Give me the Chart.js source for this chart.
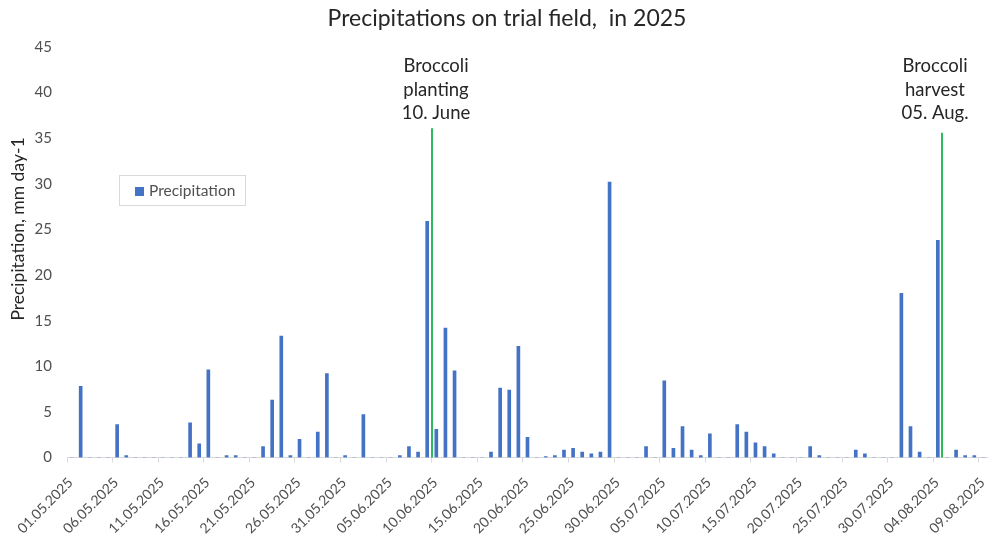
<!DOCTYPE html>
<html>
<head>
<meta charset="utf-8">
<script src="https://cdn.jsdelivr.net/npm/chart.js@4.4.1/dist/chart.umd.min.js"></script>
<style>
  html, body { margin: 0; padding: 0; background: #fff; }
  #wrap { width: 988px; height: 534px; position: relative; }
</style>
</head>
<body>
<div id="wrap"><canvas id="c" width="988" height="534"></canvas></div>
<script>
// ---- data ----
const startDate = [2025, 5, 1]; // 01.05.2025, daily categories
const dayCount = 101;            // 01.05.2025 .. 09.08.2025
const precipitation = [
  0, 7.8, 0, 0, 0, 3.6, 0.2, 0, 0, 0,          // 01.05 - 10.05
  0, 0, 0, 3.8, 1.5, 9.6, 0, 0.2, 0.2, 0,      // 11.05 - 20.05
  0, 1.2, 6.3, 13.3, 0.2, 2.0, 0, 2.8, 9.2, 0, // 21.05 - 30.05
  0.2, 0, 4.7, 0, 0, 0, 0.2, 1.2, 0.6, 25.9,   // 31.05 - 09.06
  3.1, 14.2, 9.5, 0, 0, 0, 0.6, 7.6, 7.4, 12.2,// 10.06 - 19.06
  2.2, 0, 0.1, 0.2, 0.8, 1.0, 0.6, 0.4, 0.6, 30.2, // 20.06 - 29.06
  0, 0, 0, 1.2, 0, 8.4, 1.0, 3.4, 0.8, 0.2,    // 30.06 - 09.07
  2.6, 0, 0, 3.6, 2.8, 1.6, 1.2, 0.4, 0, 0,    // 10.07 - 19.07
  0, 1.2, 0.2, 0, 0, 0, 0.8, 0.4, 0, 0,        // 20.07 - 29.07
  0, 18.0, 3.4, 0.6, 0, 23.8, 0, 0.8, 0.2, 0.2,// 30.07 - 08.08
  0                                            // 09.08
];
const tickLabels = [
  '01.05.2025','06.05.2025','11.05.2025','16.05.2025','21.05.2025','26.05.2025',
  '31.05.2025','05.06.2025','10.06.2025','15.06.2025','20.06.2025','25.06.2025',
  '30.06.2025','05.07.2025','10.07.2025','15.07.2025','20.07.2025','25.07.2025',
  '30.07.2025','04.08.2025','09.08.2025'
];
const yTicks = [0, 5, 10, 15, 20, 25, 30, 35, 40, 45];
const eventDates = ['10.06.2025', '05.08.2025'];
const eventHeights = [36.1, 35.6];
const eventTexts = [['Broccoli', 'planting', '10. June'], ['Broccoli', 'harvest', '05. Aug.']];
const seriesName = 'Precipitation';
const chartTitle = 'Precipitations on trial field,  in 2025';
const yTitle = 'Precipitation, mm day-1';

// build daily categories
const categories = [];
{
  const d = new Date(Date.UTC(startDate[0], startDate[1] - 1, startDate[2]));
  for (let i = 0; i < dayCount; i++) {
    const dd = String(d.getUTCDate()).padStart(2, '0');
    const mm = String(d.getUTCMonth() + 1).padStart(2, '0');
    categories.push(dd + '.' + mm + '.' + d.getUTCFullYear());
    d.setUTCDate(d.getUTCDate() + 1);
  }
}
const tickSet = new Set(tickLabels);

// ---- style ----
const FONT = 'Lato, "Open Sans", sans-serif';
const BAR_COLOR = '#4472C4';
const EVENT_COLOR = '#2DBA5A';
const AXIS_COLOR = '#D9D9D9';
const LABEL_COLOR = '#505050';
const TEXT_COLOR = '#262626';
const eventTextDx = [4, -7];

const overlay = {
  id: 'overlay',
  afterDatasetsDraw(chart) {
    const ctx = chart.ctx;
    const xs = chart.scales.x, ys = chart.scales.y;
    const half = (xs.getPixelForValue(1) - xs.getPixelForValue(0)) / 2;
    ctx.save();
    // event lines
    eventDates.forEach((d, k) => {
      const idx = categories.indexOf(d);
      const x = Math.round(xs.getPixelForValue(idx) - half);
      ctx.strokeStyle = EVENT_COLOR;
      ctx.lineWidth = 2;
      ctx.beginPath();
      ctx.moveTo(x, ys.getPixelForValue(0));
      ctx.lineTo(x, ys.getPixelForValue(eventHeights[k]));
      ctx.stroke();
      ctx.fillStyle = TEXT_COLOR;
      ctx.font = '18.5px ' + FONT;
      ctx.textAlign = 'center';
      ctx.textBaseline = 'middle';
      const lineY = [66, 90, 113];
      eventTexts[k].forEach((t, j) => {
        ctx.fillText(t, x + eventTextDx[k], lineY[j]);
      });
    });
    ctx.restore();
  },
  afterDraw(chart) {
    const ctx = chart.ctx;
    ctx.save();
    // title
    ctx.fillStyle = TEXT_COLOR;
    ctx.font = '23px ' + FONT;
    ctx.textAlign = 'center';
    ctx.textBaseline = 'middle';
    ctx.fillText(chartTitle, 507, 19);
    // y title
    ctx.save();
    ctx.translate(18, 229);
    ctx.rotate(-Math.PI / 2);
    ctx.font = '17.5px ' + FONT;
    ctx.fillStyle = TEXT_COLOR;
    ctx.fillText(yTitle, 0, 0);
    ctx.restore();
    // legend
    ctx.strokeStyle = AXIS_COLOR;
    ctx.lineWidth = 1;
    ctx.strokeRect(119.5, 175.5, 126, 30);
    ctx.fillStyle = chart.data.datasets[0].backgroundColor;
    ctx.fillRect(135, 187, 9, 9);
    ctx.fillStyle = LABEL_COLOR;
    ctx.font = '15.5px ' + FONT;
    ctx.textAlign = 'left';
    ctx.fillText(chart.data.datasets[0].label, 149, 191);
    ctx.restore();
  }
};

new Chart(document.getElementById('c'), {
  type: 'bar',
  data: {
    labels: categories,
    datasets: [{
      label: seriesName,
      data: precipitation,
      backgroundColor: BAR_COLOR,
      borderWidth: 0,
      barThickness: 3
    }]
  },
  plugins: [overlay],
  options: {
    responsive: false,
    animation: false,
    devicePixelRatio: 1,
    layout: { padding: { top: 47, left: 0, right: 0, bottom: 0 } },
    plugins: { legend: { display: false }, title: { display: false }, tooltip: { enabled: false } },
    scales: {
      x: {
        type: 'category',
        offset: true,
        grid: {
          offset: true,
          drawOnChartArea: false,
          drawTicks: true,
          tickLength: 5,
          color: (c) => (c.index % 5 === 0 ? AXIS_COLOR : 'rgba(0,0,0,0)')
        },
        border: { display: true, color: AXIS_COLOR, width: 1 },
        ticks: {
          autoSkip: false,
          minRotation: 45,
          maxRotation: 45,
          color: LABEL_COLOR,
          font: { family: FONT, size: 14 },
          padding: 12,
          labelOffset: -1,
          callback: function (v, i) { return tickSet.has(categories[i]) ? categories[i] : ''; }
        },
        afterFit: (s) => { s.height = 76.5; s.paddingLeft = 0; s.paddingRight = 0; }
      },
      y: {
        min: 0,
        max: 45,
        afterBuildTicks: (s) => { s.ticks = yTicks.map(v => ({ value: v })); },
        grid: { display: false, drawTicks: false },
        border: { display: false },
        ticks: { color: LABEL_COLOR, font: { family: FONT, size: 15 }, padding: 15 },
        afterFit: (s) => { s.width = 67; }
      }
    }
  }
});
</script>
</body>
</html>
